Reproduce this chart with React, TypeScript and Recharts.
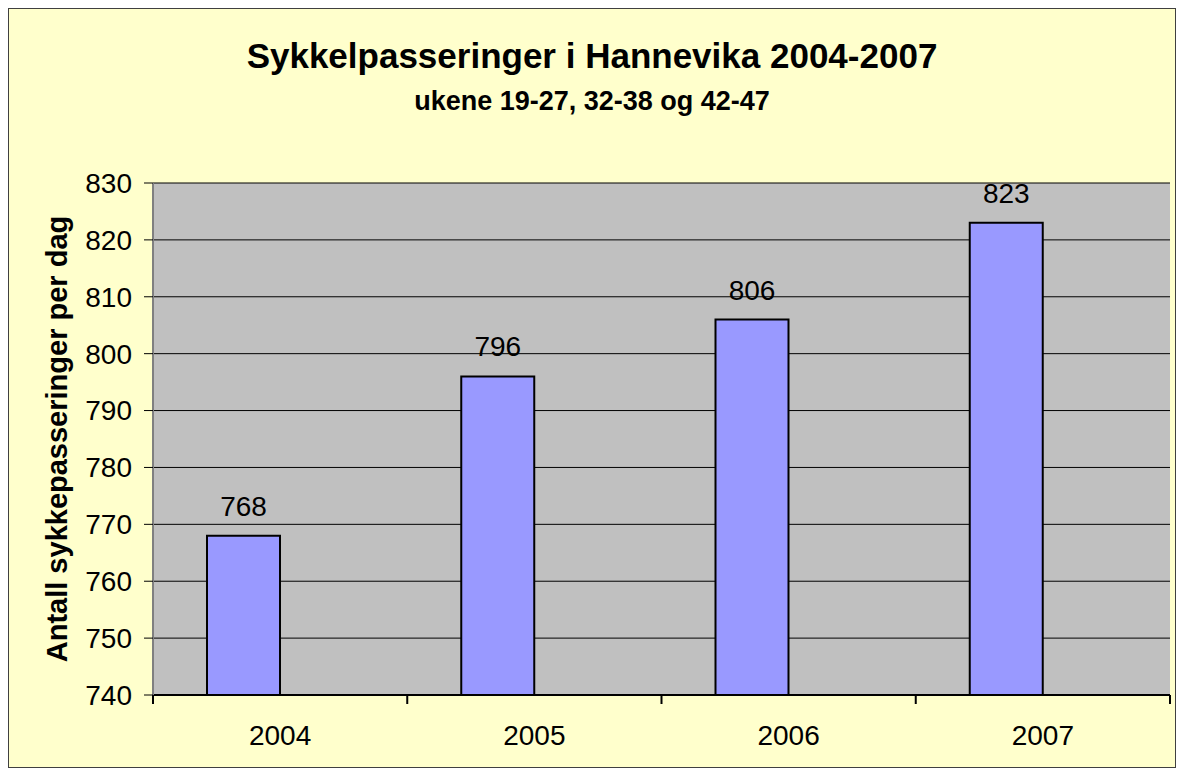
import React from "react";
import {
  BarChart,
  Bar,
  XAxis,
  YAxis,
  CartesianGrid,
  LabelList,
} from "recharts";

const years = ["2004", "2005", "2006", "2007"];
const passings = [768, 796, 806, 823];
const yTicks = [740, 750, 760, 770, 780, 790, 800, 810, 820, 830];

const data = years.map((year, i) => ({ year, value: passings[i] }));

const font = "'Liberation Sans', Arial, sans-serif";
const X_TICK_SIZE = 8;
const X_TICK_MARGIN = 22;

// Excel puts the x ticks between categories, so draw them from the band offset
const YearTick = (props: any) => {
  const { x, y, payload, index, visibleTicksCount } = props;
  const axisY = y - X_TICK_SIZE - X_TICK_MARGIN;
  const half = payload.offset || 0;
  return (
    <g>
      <line
        x1={x - half}
        x2={x - half}
        y1={axisY}
        y2={axisY + 9}
        stroke="#000"
        strokeWidth={2}
      />
      {index === visibleTicksCount - 1 && (
        <line
          x1={x + half}
          x2={x + half}
          y1={axisY}
          y2={axisY + 9}
          stroke="#000"
          strokeWidth={2}
        />
      )}
      <text
        x={x}
        y={y}
        dy="0.71em"
        textAnchor="middle"
        fill="#000"
        fontSize={28}
        fontFamily={font}
      >
        {payload.value}
      </text>
    </g>
  );
};

const App: React.FC = () => {
  return (
    <div
      style={{
        position: "relative",
        width: 1166,
        height: 758,
        border: "1px solid #404040",
        background: "#FFFFCC",
        fontFamily: font,
        color: "#000",
      }}
    >
      <div
        style={{
          position: "absolute",
          top: 29,
          left: 0,
          width: "100%",
          textAlign: "center",
          fontSize: 35,
          fontWeight: "bold",
          lineHeight: 1,
        }}
      >
        Sykkelpasseringer i Hannevika 2004-2007
      </div>
      <div
        style={{
          position: "absolute",
          top: 79,
          left: 0,
          width: "100%",
          textAlign: "center",
          fontSize: 27,
          fontWeight: "bold",
          lineHeight: 1,
        }}
      >
        ukene 19-27, 32-38 og 42-47
      </div>
      <div
        style={{
          position: "absolute",
          left: 48,
          top: 430,
          transform: "translate(-50%, -50%) rotate(-90deg)",
          whiteSpace: "nowrap",
          fontSize: 29,
          fontWeight: "bold",
          lineHeight: 1,
        }}
      >
        Antall sykkepasseringer per dag
      </div>
      <BarChart
        width={1166}
        height={758}
        data={data}
        margin={{ top: 174, right: 5, left: 0, bottom: 12 }}
        barCategoryGap={54}
        barGap={0}
      >
        <CartesianGrid
          vertical={false}
          stroke="#000"
          fill="#C0C0C0"
          fillOpacity={1}
        />
        <XAxis
          dataKey="year"
          height={60}
          interval={0}
          axisLine={{ stroke: "#000", strokeWidth: 2 }}
          tickLine={false}
          tickSize={X_TICK_SIZE}
          tickMargin={X_TICK_MARGIN}
          tick={YearTick}
        />
        <XAxis
          xAxisId="top"
          dataKey="year"
          orientation="top"
          height={0}
          tick={false}
          tickLine={false}
          axisLine={{ stroke: "#808080", strokeWidth: 2 }}
        />
        <YAxis
          width={144}
          domain={[740, 830]}
          ticks={yTicks}
          interval={0}
          allowDataOverflow
          axisLine={{ stroke: "#808080", strokeWidth: 2 }}
          tickLine={{ stroke: "#000" }}
          tickSize={9}
          tickMargin={12}
          tick={{ fill: "#000", fontSize: 28, fontFamily: font }}
        />
        <YAxis
          yAxisId="right"
          orientation="right"
          width={0}
          domain={[740, 830]}
          tick={false}
          tickLine={false}
          axisLine={{ stroke: "#808080", strokeWidth: 2 }}
        />
        <Bar
          dataKey="value"
          fill="#9999FF"
          stroke="#000"
          strokeWidth={2}
          isAnimationActive={false}
        >
          <LabelList
            dataKey="value"
            position="top"
            offset={20}
            fill="#000"
            fontSize={28}
            fontFamily={font}
          />
        </Bar>
        <Bar dataKey="blank" fill="none" isAnimationActive={false} />
      </BarChart>
    </div>
  );
};

export default App;
